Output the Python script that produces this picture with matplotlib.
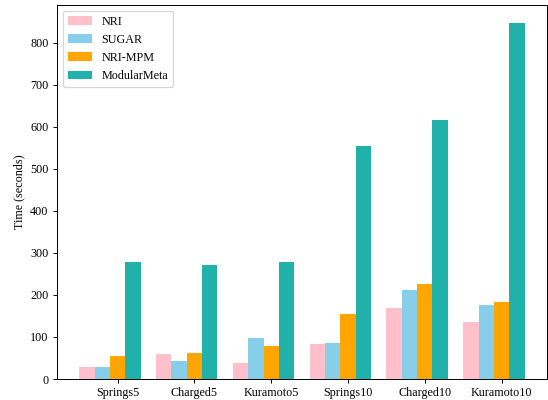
import numpy as np
import matplotlib
matplotlib.use("Agg")
import matplotlib.pyplot as plt

plt.rcParams['font.family'] = ['Liberation Serif', 'DejaVu Serif']
plt.rcParams['font.size'] = 10

datasets = ["Springs5", "Charged5", "Kuramoto5", "Springs10", "Charged10", "Kuramoto10"]
nri = [29, 60, 38, 84, 169, 136]
sugar = [29, 43, 98, 86, 212, 177]
nri_mpm = [55, 62, 79, 155, 227, 184]
modular_meta = [279, 270, 279, 554, 616, 847]

methods = ["NRI", "SUGAR", "NRI-MPM", "ModularMeta"]
colors = ["pink", "skyblue", "orange", "lightseagreen"]

DPI = 87
fig = plt.figure(figsize=(548 / DPI, 400 / DPI), dpi=DPI)
ax = fig.add_axes([0.104, 0.0525, 0.894, 0.935])

x = np.arange(len(datasets))
width = 0.2
series = [nri, sugar, nri_mpm, modular_meta]
for i, (vals, name, c) in enumerate(zip(series, methods, colors)):
    ax.bar(x + (i - 2) * width, vals, width, label=name, color=c)

ax.set_xticks(x)
ax.set_xticklabels(datasets)
ax.set_ylabel("Time (seconds)")
ax.legend(loc='upper left')

fig.savefig("out.png", dpi=DPI)
